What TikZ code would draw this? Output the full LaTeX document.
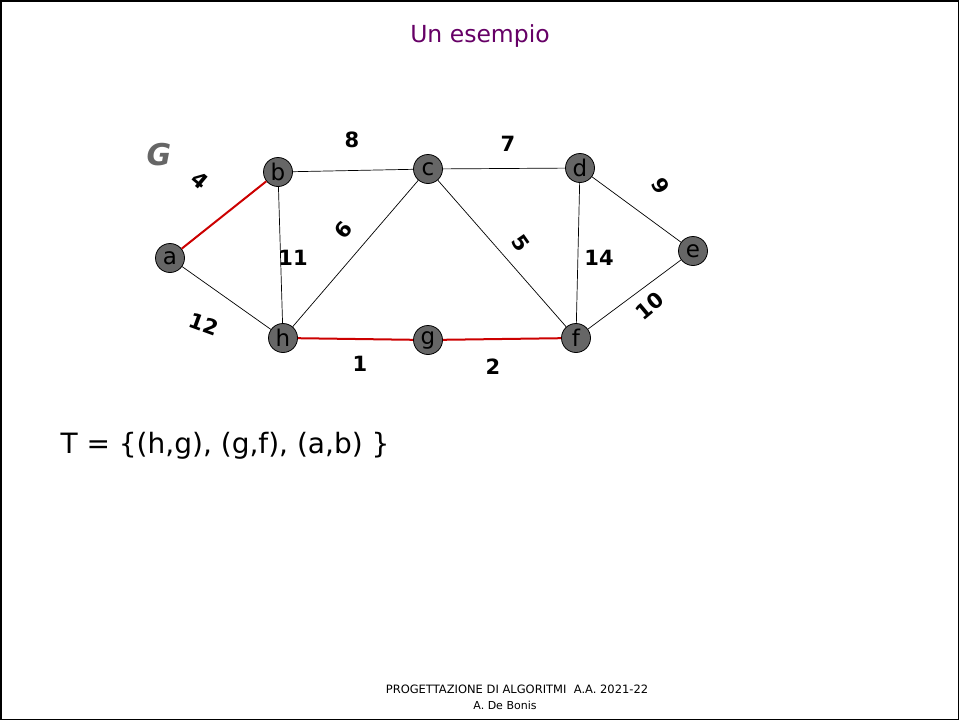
\documentclass[tikz,border=0pt]{standalone}
\usepackage{fontspec}
\setmainfont{DejaVu Sans}
\definecolor{titlecol}{HTML}{660066}
\definecolor{nodefill}{HTML}{666666}
\definecolor{redge}{HTML}{CC0000}
\begin{document}
\begin{tikzpicture}[x=1pt,y=-1pt,
  vert/.style={circle,draw=black,line width=0.8pt,fill=nodefill,minimum size=29pt,inner sep=0pt,font=\fontsize{23}{23}\selectfont},
  edge/.style={draw=black,line width=0.7pt},
  redg/.style={draw=redge,line width=2pt},
  wt/.style={inner sep=0pt,font=\fontsize{21}{21}\selectfont\bfseries}]
\useasboundingbox (0,0) rectangle (959,720);
\draw[line width=1.5pt] (0.75,0.75) rectangle (958.25,719.25);
\node[text=titlecol,font=\fontsize{23.5}{23.5}\selectfont] (title) at (480,36) {Un esempio};
% vertices
\node[vert] (a) at (170,258) {a};
\node[vert] (b) at (278,172) {b};
\node[vert] (c) at (428,169) {c};
\node[vert] (d) at (580,168) {d};
\node[vert] (e) at (693,251) {e};
\node[vert] (h) at (283,338) {h};
\node[vert] (g) at (428,340) {g};
\node[vert] (f) at (576,338) {f};
% edges
\path[redg] (a) -- (b);
\path[edge] (a) -- (h);
\path[edge] (b) -- (c);
\path[edge] (b) -- (h);
\path[edge] (h) -- (c);
\path[edge] (c) -- (d);
\path[edge] (c) -- (f);
\path[edge] (d) -- (f);
\path[edge] (d) -- (e);
\path[edge] (e) -- (f);
\path[redg] (h) -- (g);
\path[redg] (g) -- (f);
% weights
\node[wt] (w8) at (352,140) {8};
\node[wt] (w7) at (508,144) {7};
\node[wt,rotate=-40] (w4) at (200,180) {4};
\node[wt] (w11) at (293,258) {11};
\node[wt,rotate=50] (w6) at (343,230) {6};
\node[wt,rotate=-55] (w5) at (521,243) {5};
\node[wt] (w14) at (599,258) {14};
\node[wt,rotate=-60] (w9) at (661,186) {9};
\node[wt,rotate=40] (w10) at (650,306) {10};
\node[wt,rotate=-20] (w12) at (204,324) {12};
\node[wt] (w1) at (360,364) {1};
\node[wt] (w2) at (493,367) {2};
\node[text=nodefill,font=\fontsize{30}{30}\selectfont\bfseries\itshape] (G) at (159,155) {G};
\node[font=\fontsize{28}{28}\selectfont] (T) at (225,446) {T = \{(h,g), (g,f), (a,b) \}};
\node[font=\fontsize{11.5}{11.5}\selectfont] (f1) at (517,689) {PROGETTAZIONE DI ALGORITMI\ \ A.A. 2021-22};
\node[font=\fontsize{11}{11}\selectfont] (f2) at (505,705) {A. De Bonis};
\end{tikzpicture}
\end{document}
